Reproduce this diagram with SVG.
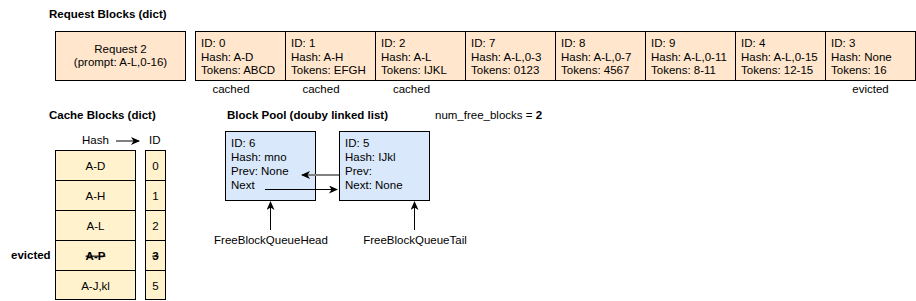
<svg xmlns="http://www.w3.org/2000/svg" width="916" height="301" viewBox="0 0 916 301">
<defs>
<style>
text{font-family:"Liberation Sans",Arial,Helvetica,sans-serif;font-size:11.5px;fill:#000}
.b{font-weight:bold}
.m{text-anchor:middle}
.req{fill:#FFE6CC;stroke:#000;stroke-width:1}
.cache{fill:#FFF2CC;stroke:#000;stroke-width:1}
.pool{fill:#DAE8FC;stroke:#000;stroke-width:1}
.ln{stroke:#000;stroke-width:1;fill:none}
.gl{stroke:#808080;stroke-width:2;fill:none}
.strike{text-decoration:line-through}
</style>
<marker id="ah" markerWidth="10" markerHeight="10" refX="8" refY="4" orient="auto" markerUnits="userSpaceOnUse">
<path d="M0,0 L9,4 L0,8 L2.5,4 Z" fill="#000"/>
</marker>
<marker id="ahg" markerWidth="10" markerHeight="10" refX="8" refY="4" orient="auto" markerUnits="userSpaceOnUse">
<path d="M0,0 L9,4 L0,8 L2.5,4 Z" fill="#000"/>
</marker>
</defs>

<g id="titles">
<text class="b" x="49" y="18">Request Blocks (dict)</text>
<text class="b" x="49" y="118.5">Cache Blocks (dict)</text>
<text class="b" x="227" y="118.5">Block Pool (douby linked list)</text>
<text x="435" y="118.5">num_free_blocks = <tspan class="b">2</tspan></text>
</g>

<g id="request2">
<rect class="req" x="55.5" y="31.5" width="130" height="49"/>
<text class="m" x="120.5" y="52.5">Request 2</text>
<text class="m" x="120.5" y="66">(prompt: A-L,0-16)</text>
</g>

<g id="req-block-0">
<rect class="req" x="195.5" y="31.5" width="90" height="49"/>
<text x="201" y="47">ID: 0</text><text x="201" y="60.5">Hash: A-D</text><text x="201" y="74">Tokens: ABCD</text>
</g>
<g id="req-block-1">
<rect class="req" x="285.5" y="31.5" width="90" height="49"/>
<text x="291" y="47">ID: 1</text><text x="291" y="60.5">Hash: A-H</text><text x="291" y="74">Tokens: EFGH</text>
</g>
<g id="req-block-2">
<rect class="req" x="375.5" y="31.5" width="90" height="49"/>
<text x="381" y="47">ID: 2</text><text x="381" y="60.5">Hash: A-L</text><text x="381" y="74">Tokens: IJKL</text>
</g>
<g id="req-block-7">
<rect class="req" x="465.5" y="31.5" width="90" height="49"/>
<text x="471" y="47">ID: 7</text><text x="471" y="60.5">Hash: A-L,0-3</text><text x="471" y="74">Tokens: 0123</text>
</g>
<g id="req-block-8">
<rect class="req" x="555.5" y="31.5" width="90" height="49"/>
<text x="561" y="47">ID: 8</text><text x="561" y="60.5">Hash: A-L,0-7</text><text x="561" y="74">Tokens: 4567</text>
</g>
<g id="req-block-9">
<rect class="req" x="645.5" y="31.5" width="90" height="49"/>
<text x="651" y="47">ID: 9</text><text x="651" y="60.5">Hash: A-L,0-11</text><text x="651" y="74">Tokens: 8-11</text>
</g>
<g id="req-block-4">
<rect class="req" x="735.5" y="31.5" width="90" height="49"/>
<text x="741" y="47">ID: 4</text><text x="741" y="60.5">Hash: A-L,0-15</text><text x="741" y="74">Tokens: 12-15</text>
</g>
<g id="req-block-3">
<rect class="req" x="825.5" y="31.5" width="90" height="49"/>
<text x="831" y="47">ID: 3</text><text x="831" y="60.5">Hash: None</text><text x="831" y="74">Tokens: 16</text>
</g>

<g id="status-labels">
<text class="m" x="231" y="92.5">cached</text>
<text class="m" x="321" y="92.5">cached</text>
<text class="m" x="411.5" y="92.5">cached</text>
<text class="m" x="870.5" y="92.5">evicted</text>
</g>

<g id="cache-header">
<text x="82" y="143.5">Hash</text>
<text x="149" y="143.5">ID</text>
</g>

<g id="cache-hash-col">
<rect class="cache" x="55.5" y="150.5" width="80" height="30"/>
<rect class="cache" x="55.5" y="180.5" width="80" height="30"/>
<rect class="cache" x="55.5" y="210.5" width="80" height="30"/>
<rect class="cache" x="55.5" y="240.5" width="80" height="30"/>
<rect class="cache" x="55.5" y="270.5" width="80" height="29"/>
<text class="m" x="95.5" y="169.5">A-D</text>
<text class="m" x="95.5" y="199.5">A-H</text>
<text class="m" x="95.5" y="229.5">A-L</text>
<text class="m b strike" x="95.5" y="259.5">A-P</text>
<text class="m" x="95.5" y="289.5">A-J,kl</text>
</g>

<g id="cache-id-col">
<rect class="cache" x="145.5" y="150.5" width="20" height="30"/>
<rect class="cache" x="145.5" y="180.5" width="20" height="30"/>
<rect class="cache" x="145.5" y="210.5" width="20" height="30"/>
<rect class="cache" x="145.5" y="240.5" width="20" height="30"/>
<rect class="cache" x="145.5" y="270.5" width="20" height="29"/>
<text class="m" x="155.5" y="169.5">0</text>
<text class="m" x="155.5" y="199.5">1</text>
<text class="m" x="155.5" y="229.5">2</text>
<text class="m b strike" x="155.5" y="259.5">3</text>
<text class="m" x="155.5" y="289.5">5</text>
</g>

<g id="evicted-label">
<text class="b" x="11" y="259">evicted</text>
</g>

<g id="pool-block-6">
<rect class="pool" x="225.5" y="131.5" width="90" height="69"/>
<text x="231" y="147">ID: 6</text>
<text x="231" y="161">Hash: mno</text>
<text x="231" y="175">Prev: None</text>
<text x="231" y="189">Next</text>
</g>
<g id="pool-block-5">
<rect class="pool" x="339.5" y="131.5" width="90" height="69"/>
<text x="345" y="147">ID: 5</text>
<text x="345" y="161">Hash: IJkl</text>
<text x="345" y="175">Prev:</text>
<text x="345" y="189">Next: None</text>
</g>

<g id="queue-labels">
<text class="m" x="271" y="244">FreeBlockQueueHead</text>
<text class="m" x="415" y="244">FreeBlockQueueTail</text>
</g>

<g id="connectors">
<line class="ln" x1="116" y1="141" x2="139" y2="141" marker-end="url(#ah)"/>
<line class="gl" x1="339" y1="175" x2="302" y2="175" marker-end="url(#ahg)"/>
<line class="ln" x1="265" y1="189.5" x2="337" y2="189.5" marker-end="url(#ah)"/>
<line class="ln" x1="270.5" y1="230" x2="270.5" y2="202" marker-end="url(#ah)"/>
<line class="ln" x1="414.5" y1="230" x2="414.5" y2="202" marker-end="url(#ah)"/>
</g>
</svg>
